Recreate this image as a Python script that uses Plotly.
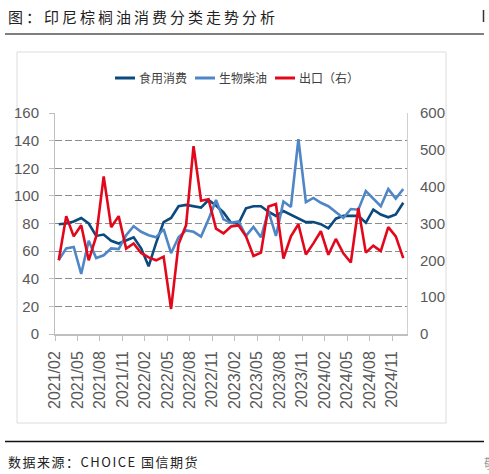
import plotly.graph_objects as go

# monthly categories, 2021/02 .. 2024/12
months = []
for yr in range(2021, 2025):
    for m in range(1, 13):
        if yr == 2021 and m == 1:
            continue
        months.append("%d/%02d" % (yr, m))

# 食用消费 (left axis)
food = [79.5, 80, 81.5, 84, 80, 71, 72, 67.5, 65.5, 67.5, 70, 62,
        49, 66, 81, 84, 92.5, 93.5, 92.5, 91.5, 97, 93, 88, 80.5,
        80, 91, 92.5, 92.5, 88.5, 85.5, 89, 86.5, 84, 81, 81, 79.5,
        76.5, 83.5, 85.5, 85.5, 85.5, 80.5, 90, 86.5, 84.5, 86.5, 95]

# 生物柴油 (left axis)
biodiesel = [53.5, 62, 63, 43.5, 67.5, 55, 57, 62, 61.5, 71.5, 78, 74,
             71.5, 70, 76, 58.5, 70, 75, 74, 70.5, 83, 97, 83, 80.5,
             81.5, 71, 77.5, 70, 89, 71, 96, 92, 141, 95.5, 98.5, 95,
             92.5, 88.5, 84, 90.5, 90, 103.5, 98, 92.5, 105, 98, 105]

# 出口 (right axis)
export = [200, 320, 265, 295, 200, 265, 428, 290, 320, 232, 246, 220,
          208, 200, 210, 68, 244, 295, 510, 362, 366, 286, 273, 292,
          295, 265, 212, 221, 346, 353, 205, 265, 298, 216, 246, 279,
          215, 258, 219, 194, 342, 221, 240, 225, 290, 265, 206]

tick_labels = months[::3]

NAVY = "#0B4A7E"
LIGHT = "#4F86C6"
RED = "#E2071B"
GRAY = "#595959"
TICK_FONT = "Liberation Sans, Arial, sans-serif"
CJK = "Noto Sans CJK SC, sans-serif"

W, H = 489, 474
L, R, T, B = 55, 82, 113, 140


def px(x):
    return (x - L) / (W - L - R)


def py(y):
    return (H - B - y) / (H - T - B)


idx = list(range(len(months)))

fig = go.Figure()
fig.add_trace(go.Scatter(x=idx, y=food, name="食用消费", mode="lines",
                         line=dict(color=NAVY, width=2.6), showlegend=False))
fig.add_trace(go.Scatter(x=idx, y=biodiesel, name="生物柴油", mode="lines",
                         line=dict(color=LIGHT, width=2.6), showlegend=False))
fig.add_trace(go.Scatter(x=idx, y=export, name="出口（右）", mode="lines",
                         line=dict(color=RED, width=2.6), yaxis="y2",
                         showlegend=False))

shapes = [
    # outer chart frame
    dict(type="rect", xref="paper", yref="paper", x0=px(17), x1=px(446),
         y0=py(52), y1=py(423), line=dict(color="#dcdcdc", width=1), layer="below"),
    # rule under the title
    dict(type="line", xref="paper", yref="paper", x0=px(5), x1=px(484),
         y0=py(34), y1=py(34), line=dict(color="#555555", width=1.5)),
    # rule above the source
    dict(type="line", xref="paper", yref="paper", x0=px(5), x1=px(484),
         y0=py(441.5), y1=py(441.5), line=dict(color="#111111", width=1.5)),
    # cut-off mark at top right
    dict(type="line", xref="paper", yref="paper", x0=px(483.5), x1=px(483.5),
         y0=py(10), y1=py(22), line=dict(color="#333333", width=1.5)),
]

annotations = [
    dict(text='<span style="letter-spacing:3px">图：印尼棕榈油消费分类走势分析</span>',
         xref="paper", yref="paper", x=px(6), y=py(16), xanchor="left", yanchor="middle",
         showarrow=False, font=dict(family=CJK, size=15, color="#222222")),
    dict(text='<span style="letter-spacing:1.5px">数据来源：CHOICE 国信期货</span>',
         xref="paper", yref="paper", x=px(6), y=py(461.5), xanchor="left", yanchor="middle",
         showarrow=False, font=dict(family=CJK, size=13, color="#222222")),
    dict(text="敬", xref="paper", yref="paper", x=px(482), y=py(462),
         xanchor="left", yanchor="middle", showarrow=False,
         font=dict(family=CJK, size=13, color="#999999")),
]

# hand-drawn legend with short line keys
legend_items = [("食用消费", NAVY, 115), ("生物柴油", LIGHT, 195), ("出口（右）", RED, 275)]
for label, color, x0 in legend_items:
    shapes.append(dict(type="line", xref="paper", yref="paper", x0=px(x0), x1=px(x0 + 20),
                       y0=py(78), y1=py(78), line=dict(color=color, width=3)))
    annotations.append(dict(text=label, xref="paper", yref="paper", x=px(x0 + 22), y=py(78),
                            xanchor="left", yanchor="middle", showarrow=False,
                            font=dict(family=CJK, size=12, color="#404040")))

fig.update_layout(
    width=W, height=H,
    margin=dict(l=L, r=R, t=T, b=B),
    paper_bgcolor="white", plot_bgcolor="white",
    showlegend=False,
    shapes=shapes,
    annotations=annotations,
    xaxis=dict(
        range=[-0.5, len(months) - 0.5],
        tickmode="array",
        tickvals=[i - 0.5 for i in range(0, len(months), 3)],
        ticktext=tick_labels,
        tickangle=-90,
        ticks="outside", ticklen=5, tickcolor="#bfbfbf",
        showline=True, linecolor="#bfbfbf", linewidth=1.5,
        showgrid=False, zeroline=False,
        ticklabelstandoff=4,
        tickfont=dict(family=TICK_FONT, size=16, color=GRAY),
    ),
    yaxis=dict(
        range=[0, 160], dtick=20, tick0=0,
        ticks="outside", ticklen=5, tickcolor="#bfbfbf",
        showline=True, linecolor="#bfbfbf", linewidth=1,
        showgrid=True, gridcolor="#8c8c8c", gridwidth=1.3, griddash="7px,3px",
        zeroline=False,
        ticklabelstandoff=7,
        tickfont=dict(family=TICK_FONT, size=15, color=GRAY),
    ),
    yaxis2=dict(
        range=[0, 600], dtick=100, tick0=0,
        overlaying="y", side="right",
        showline=True, linecolor="#d0d0d0", linewidth=1,
        showgrid=False, zeroline=False, ticks="",
        ticklabelstandoff=9,
        tickfont=dict(family=TICK_FONT, size=15, color=GRAY),
    ),
)

# drop the default page margin so the figure sits at the window's corner
fig.write_html("out.html", config={"displayModeBar": False},
               post_script="document.body.style.margin='0';")
